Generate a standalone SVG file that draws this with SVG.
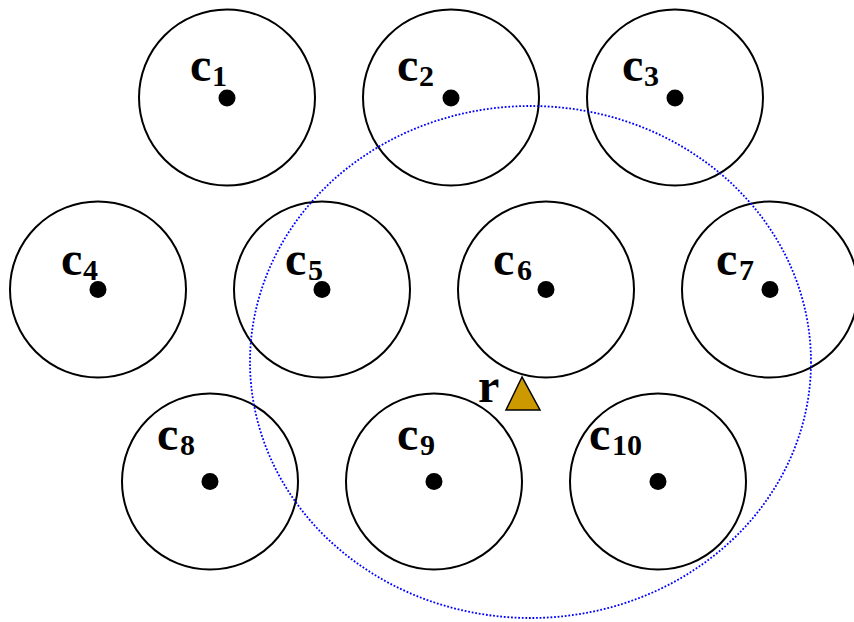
<svg xmlns="http://www.w3.org/2000/svg" width="854" height="622" viewBox="0 0 854 622">
<style>
.cell{fill:none;stroke:#000;stroke-width:2}
.dot{fill:#000}
.lbl{font-family:"Liberation Serif","Times New Roman",serif;font-weight:bold;font-size:48px;fill:#000}
.sub{font-size:30px}
.range{fill:none;stroke:#0000ff;stroke-width:1.8;stroke-dasharray:1.8 1.8}
</style>
<rect width="854" height="622" fill="#fff"/>
<g id="c1"><circle class="cell" cx="227" cy="97.5" r="88"/><circle class="dot" cx="227" cy="98" r="8.5"/><text class="lbl" x="190" y="81">c<tspan class="sub" x="212" y="86">1</tspan></text></g>
<g id="c2"><circle class="cell" cx="451" cy="97.5" r="88"/><circle class="dot" cx="451" cy="98" r="8.5"/><text class="lbl" x="397" y="81">c<tspan class="sub" x="419" y="86">2</tspan></text></g>
<g id="c3"><circle class="cell" cx="675" cy="97.5" r="88"/><circle class="dot" cx="675" cy="98" r="8.5"/><text class="lbl" x="622" y="81">c<tspan class="sub" x="644" y="86">3</tspan></text></g>
<g id="c4"><circle class="cell" cx="98" cy="289.5" r="88"/><circle class="dot" cx="98" cy="289.5" r="8.5"/><text class="lbl" x="61" y="275">c<tspan class="sub" x="83" y="280">4</tspan></text></g>
<g id="c5"><circle class="cell" cx="322" cy="289.5" r="88"/><circle class="dot" cx="322" cy="289.5" r="8.5"/><text class="lbl" x="285" y="275">c<tspan class="sub" x="308" y="280">5</tspan></text></g>
<g id="c6"><circle class="cell" cx="546" cy="289.5" r="88"/><circle class="dot" cx="546" cy="289.5" r="8.5"/><text class="lbl" x="493" y="275">c<tspan class="sub" x="517" y="280">6</tspan></text></g>
<g id="c7"><circle class="cell" cx="770" cy="289.5" r="88"/><circle class="dot" cx="770" cy="289.5" r="8.5"/><text class="lbl" x="716" y="275">c<tspan class="sub" x="739" y="280">7</tspan></text></g>
<g id="c8"><circle class="cell" cx="210" cy="481.5" r="88"/><circle class="dot" cx="210" cy="481.5" r="8.5"/><text class="lbl" x="157" y="450">c<tspan class="sub" x="180" y="455">8</tspan></text></g>
<g id="c9"><circle class="cell" cx="434" cy="481.5" r="88"/><circle class="dot" cx="434" cy="481.5" r="8.5"/><text class="lbl" x="397" y="450">c<tspan class="sub" x="420" y="455">9</tspan></text></g>
<g id="c10"><circle class="cell" cx="658" cy="481.5" r="88"/><circle class="dot" cx="658" cy="481.5" r="8.5"/><text class="lbl" x="589" y="450">c<tspan class="sub" x="612" y="455">10</tspan></text></g>
<g id="range"><ellipse class="range" cx="530.5" cy="362" rx="280.5" ry="256"/></g>
<g id="r"><polygon points="522,377 506,410 540,410" fill="#cc9900" stroke="#000" stroke-width="1.5"/><text class="lbl" x="478" y="402">r</text></g>
<g id="connectors"/>
</svg>
